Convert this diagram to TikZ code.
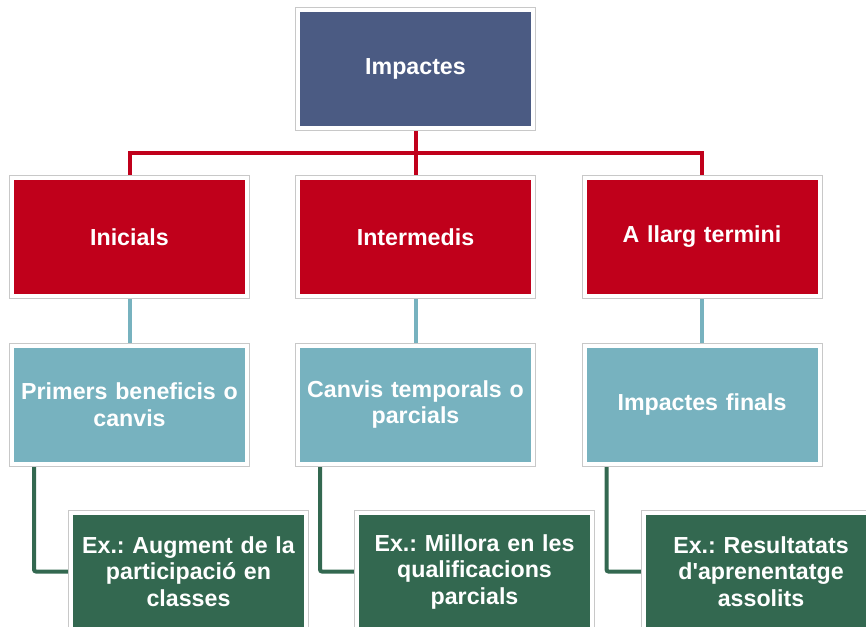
\documentclass[tikz,border=0pt]{standalone}
\usepackage{fontspec}
\setmainfont{Liberation Sans}[WordSpace=0.5, Ligatures=TeXOff]
\usetikzlibrary{backgrounds}
\frenchspacing
\definecolor{navy}{HTML}{4B5B83}
\definecolor{redc}{HTML}{C0001B}
\definecolor{lblue}{HTML}{77B2BF}
\definecolor{dgreen}{HTML}{336850}
\definecolor{frameg}{HTML}{C8C8C8}
\tikzset{
  box/.style={rectangle, minimum width=235pt, minimum height=118pt, inner sep=0pt,
    text=white, font=\bfseries\fontsize{23.2}{26.5}\selectfont, align=center, text width=232pt,
    draw=white, line width=4pt, preaction={draw=frameg, line width=6pt}},
  navybox/.style={box, fill=navy},
  redbox/.style={box, fill=redc},
  bluebox/.style={box, fill=lblue},
  greenbox/.style={box, fill=dgreen},
  redline/.style={draw=redc, line width=4pt},
  blueline/.style={draw=lblue, line width=4pt},
  greenline/.style={draw=dgreen, line width=4pt, rounded corners=2pt},
}
\begin{document}
\begin{tikzpicture}[x=1pt,y=-1pt]
\useasboundingbox (0,0) rectangle (866,626);
\clip (0,0) rectangle (866,626);
\node[navybox] (top) at (415.5,69) {Impactes};
\node[redbox] (r1) at (129.5,237) {Inicials};
\node[redbox] (r2) at (415.5,237) {Intermedis};
\node[redbox] (r3) at (702,237) {A llarg termini};
\node[bluebox] (b1) at (129.5,404.5) {Primers beneficis o\\canvis};
\node[bluebox] (b2) at (415.5,404.5) {Canvis temporals o\\parcials};
\node[bluebox] (b3) at (702,404.5) {Impactes finals};
\node[greenbox] (g1) at (188.5,571.5) {Ex.: Augment de la\\participació en\\classes};
\node[greenbox] (g2) at (474.5,571.5) {Ex.: Millora en les\\qualificacions\\parcials};
\node[greenbox] (g3) at (761,571.5) {Ex.: Resultatats\\d'aprenentatge\\assolits};
\coordinate (bus) at (415.5,153);
\begin{scope}[on background layer]
\draw[redline] (top.south) -- (r2.north);
\draw[redline] (r1.north) -- (r1.north |- bus) -- (r3.north |- bus) -- (r3.north);
\draw[blueline] (r1.south) -- (b1.north);
\draw[blueline] (r2.south) -- (b2.north);
\draw[blueline] (r3.south) -- (b3.north);
\draw[greenline] ([xshift=24pt]b1.south west) |- (g1.west);
\draw[greenline] ([xshift=24pt]b2.south west) |- (g2.west);
\draw[greenline] ([xshift=24pt]b3.south west) |- (g3.west);
\end{scope}
\end{tikzpicture}
\end{document}
